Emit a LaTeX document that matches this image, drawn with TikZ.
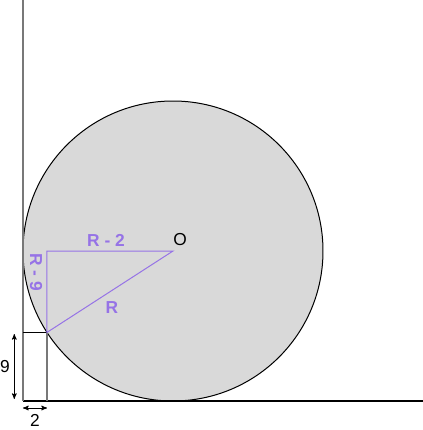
\documentclass[tikz,border=0pt]{standalone}
\usepackage{fontspec}
\setmainfont{Liberation Sans}
\usepackage{tikz}
\usetikzlibrary{arrows}
\definecolor{lav}{RGB}{150,115,230}
\definecolor{disk}{RGB}{217,217,217}
\definecolor{wall}{RGB}{120,120,120}
\tikzset{dim/.style={black, <->, >=stealth', line width=.6pt},
 lbl/.style={text=lav, font=\bfseries\fontsize{13}{15}\selectfont, inner sep=1},
 num/.style={font=\fontsize{13}{15}\selectfont, inner sep=1}}

\begin{document}
\begin{tikzpicture} [x=.75pt,y=.75pt]
\useasboundingbox (0,0) rectangle (423,430);
\coordinate (C) at (23,29);
\coordinate (O) at (173,179);
\coordinate (A) at (47,179);
\coordinate (T) at (47,97.6);
\coordinate (L) at (23,97.6);
\coordinate (B) at (47,29);
\filldraw[fill=disk, draw=black, line width=.75pt] (O) circle (112.5pt);
\draw[black, line width=1.1pt] (C) -- (423,29);
\draw[wall, line width=1.5pt] (C) -- (23,430);
\draw[wall, line width=1.5pt] (B) -- (T);
\draw[black, line width=.75pt] (L) -- (T);
\draw[lav, line width=.75pt] (O) -- (A) -- (T) -- cycle;
\node[lbl] (r2) at (106,190) {R - 2};
\node[lbl, rotate=-90] (r9) at (36,158) {R - 9};
\node[lbl] (r) at (112,122) {R};
\node[num] (olbl) at (180,190) {O};
\coordinate (v1) at (14.3,96);
\coordinate (v2) at (14.3,31);
\coordinate (h1) at (23,22);
\coordinate (h2) at (47,22);
\draw[dim] (v1) -- (v2);
\draw[dim] (h1) -- (h2);
\node[num] (nine) at (5,63) {9};
\node[num] (two) at (35,10) {2};
\end{tikzpicture}
\end{document}
